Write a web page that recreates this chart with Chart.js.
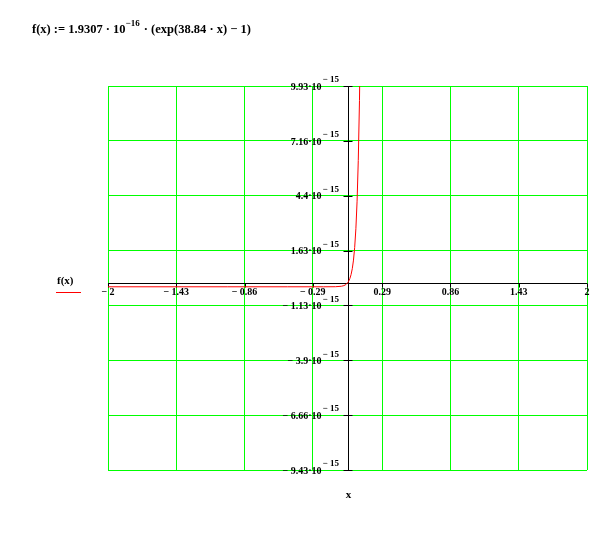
<!DOCTYPE html>
<html>
<head>
<meta charset="utf-8">
<script src="https://cdn.jsdelivr.net/npm/chart.js@4/dist/chart.umd.min.js"></script>
<style>
html,body{margin:0;padding:0;background:#fff;}
#wrap{position:relative;width:604px;height:555px;}
canvas{display:block;}
</style>
</head>
<body>
<div id="wrap"><canvas id="c" width="604" height="555"></canvas></div>
<script>
// ---- data ----
const xValues = [-2, -1, -0.5, -0.2, -0.1, -0.05, -0.03, -0.02, -0.01, 0, 0.01, 0.02, 0.03, 0.04, 0.05, 0.06, 0.07, 0.08, 0.09, 0.1, 0.11];
const fValues = [-1.9307e-16, -1.9307e-16, -1.9307e-16, -1.930e-16, -1.891e-16, -1.654e-16, -1.328e-16, -1.043e-16, -0.621e-16, 0,
                 0.916e-16, 2.27e-16, 4.26e-16, 7.20e-16, 11.53e-16, 17.92e-16, 27.34e-16, 41.24e-16, 61.74e-16, 91.9e-16, 136.5e-16];
const xTickValues = [-2, -1.43, -0.86, -0.29, 0.29, 0.86, 1.43, 2];
const xTickLabels = ['\u2212 2', '\u2212 1.43', '\u2212 0.86', '\u2212 0.29', '0.29', '0.86', '1.43', '2'];
const yTickValues = [-9.43e-15, -6.66e-15, -3.9e-15, -1.13e-15, 1.63e-15, 4.4e-15, 7.16e-15, 9.93e-15];
const yTickLabels = ['\u2212 9.43\u00b710', '\u2212 6.66\u00b710', '\u2212 3.9\u00b710', '\u2212 1.13\u00b710', '1.63\u00b710', '4.4\u00b710', '7.16\u00b710', '9.93\u00b710'];
const yTickExponent = '\u2212 15';
const seriesName = 'f(x)';
const axisTitle = 'x';

const points = xValues.map((x, i) => ({x: x, y: fValues[i]}));
const FONT = '"Liberation Serif", "Times New Roman", serif';

const overlay = {
  id: 'overlay',
  beforeDatasetsDraw(chart) {
    const ctx = chart.ctx;
    const xs = chart.scales.x, ys = chart.scales.y;
    const a = chart.chartArea;
    const x0 = Math.round(xs.getPixelForValue(0)) + 0.5;
    const y0 = Math.round(ys.getPixelForValue(0)) + 0.5;
    ctx.save();
    ctx.strokeStyle = '#000';
    ctx.lineWidth = 1;
    ctx.beginPath();
    ctx.moveTo(a.left, y0); ctx.lineTo(a.right, y0);
    ctx.moveTo(x0, a.top); ctx.lineTo(x0, a.bottom);
    yTickValues.forEach(v => {
      const p = Math.round(ys.getPixelForValue(v)) + 0.5;
      ctx.moveTo(x0 - 5, p); ctx.lineTo(x0 + 4, p);
    });
    xTickValues.forEach(v => {
      const p = Math.round(xs.getPixelForValue(v)) + 0.5;
      ctx.moveTo(p, y0); ctx.lineTo(p, y0 + 4);
    });
    ctx.stroke();

    ctx.fillStyle = '#000';
    // x tick labels
    ctx.font = 'bold 10px ' + FONT;
    ctx.textAlign = 'center';
    ctx.textBaseline = 'top';
    xTickValues.forEach((v, i) => {
      ctx.fillText(xTickLabels[i], xs.getPixelForValue(v), y0 + 4);
    });
    // y tick labels
    yTickValues.forEach((v, i) => {
      const p = ys.getPixelForValue(v);
      ctx.font = 'bold 10px ' + FONT;
      ctx.textAlign = 'right';
      ctx.textBaseline = 'middle';
      ctx.fillText(yTickLabels[i], x0 - 27, p + 1);
      ctx.font = 'bold 9px ' + FONT;
      ctx.textAlign = 'left';
      ctx.fillText(yTickExponent, x0 - 26, p - 6);
    });
    // axis title
    ctx.font = 'bold 11px ' + FONT;
    ctx.textAlign = 'center';
    ctx.textBaseline = 'middle';
    ctx.fillText(axisTitle, x0, 495);
    // legend
    ctx.textAlign = 'left';
    ctx.fillText(seriesName, 57, 281);
    ctx.strokeStyle = '#ff0000';
    ctx.beginPath();
    ctx.moveTo(56, 292.5); ctx.lineTo(81, 292.5);
    ctx.stroke();
    // formula title
    let tx = 32;
    const ty = 33;
    ctx.textBaseline = 'alphabetic';
    ctx.font = 'bold 12.5px ' + FONT;
    const part1 = 'f(x) := 1.9307 \u00b7 10';
    ctx.fillText(part1, tx, ty);
    tx += ctx.measureText(part1).width;
    ctx.font = 'bold 9px ' + FONT;
    const sup = '\u221216';
    ctx.fillText(sup, tx, ty - 7);
    tx += ctx.measureText(sup).width + 1;
    ctx.font = 'bold 12.5px ' + FONT;
    ctx.fillText(' \u00b7 (exp(38.84 \u00b7 x) \u2212 1)', tx, ty);
    ctx.restore();
  }
};

new Chart(document.getElementById('c'), {
  type: 'scatter',
  data: {
    datasets: [{
      label: seriesName,
      data: points,
      showLine: true,
      borderColor: '#ff0000',
      borderWidth: 1,
      pointRadius: 0,
      tension: 0,
      fill: false
    }]
  },
  options: {
    responsive: false,
    animation: false,
    events: [],
    layout: {padding: {left: 108, top: 86, right: 17, bottom: 85}},
    plugins: {legend: {display: false}, tooltip: {enabled: false}, title: {display: false}},
    scales: {
      x: {
        type: 'linear', min: -2, max: 2,
        afterBuildTicks: s => { s.ticks = xTickValues.map(v => ({value: v})); },
        ticks: {display: false},
        grid: {color: '#00ff00', lineWidth: 1, drawTicks: false},
        border: {display: false}
      },
      y: {
        type: 'linear', min: yTickValues[0], max: yTickValues[yTickValues.length - 1],
        afterBuildTicks: s => { s.ticks = yTickValues.map(v => ({value: v})); },
        ticks: {display: false},
        grid: {color: '#00ff00', lineWidth: 1, drawTicks: false},
        border: {display: false}
      }
    }
  },
  plugins: [overlay]
});
</script>
</body>
</html>
